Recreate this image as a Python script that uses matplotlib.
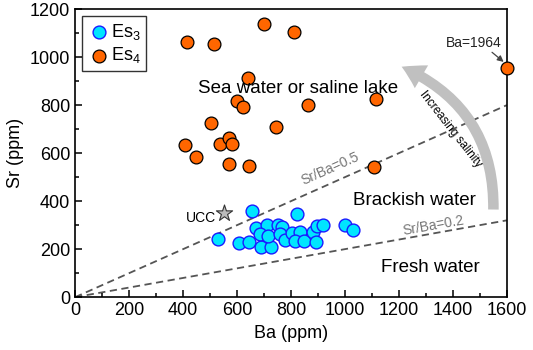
import numpy as np
import matplotlib

matplotlib.use('Agg')
import matplotlib.pyplot as plt
from matplotlib.patches import FancyArrowPatch
from matplotlib.ticker import MultipleLocator

plt.rcParams['font.family'] = ['Liberation Sans', 'DejaVu Sans']
plt.rcParams['mathtext.default'] = 'regular'

# Es3 samples (Ba, Sr in ppm)
es3_ba = [654, 821, 531, 607, 644, 689, 725, 670, 710, 685, 716, 753, 765, 759,
          778, 802, 833, 815, 848, 880, 895, 920, 893, 1000, 1031]
es3_sr = [360, 346, 242, 224, 228, 210, 210, 286, 300, 265, 254, 300, 293, 265,
          240, 269, 272, 233, 235, 272, 297, 300, 228, 300, 279]

# Es4 samples
es4_ba = [701, 812, 416, 515, 640, 599, 623, 863, 1114, 502, 744, 406, 537, 570,
          583, 448, 572, 646, 1107, 1600]
es4_sr = [1140, 1103, 1061, 1054, 915, 818, 793, 800, 824, 726, 708, 633, 637, 661,
          637, 585, 553, 546, 543, 955]

ucc_ba, ucc_sr = 550, 350
ratios = [0.5, 0.2]
ba_line = np.array([0, 1600])

fig = plt.figure(figsize=(5.33, 3.5), dpi=100)
ax = fig.add_axes([0.141, 0.151, 0.81, 0.823])

for r in ratios:
    ax.plot(ba_line, r * ba_line, ls=(0, (4, 2.5)), color='#555555', lw=1.3, zorder=1)

ax.scatter(es3_ba, es3_sr, s=85, facecolor='#00e5ff', edgecolor='#1a1aff', lw=1.0,
           zorder=3, label='Es$_3$')
ax.scatter(es4_ba, es4_sr, s=85, facecolor='#ff6600', edgecolor='black', lw=0.9,
           zorder=3, label='Es$_4$', clip_on=False)

ax.scatter([ucc_ba], [ucc_sr], marker='*', s=150, facecolor='#bbbbbb', edgecolor='#333333',
           lw=0.8, zorder=4)
ax.text(467, 329, 'UCC', fontsize=10, ha='center', va='center')

# ratio labels
ax.text(944, 535, 'Sr/Ba=0.5', fontsize=10, color='#777777', rotation=24,
        ha='center', va='center', rotation_mode='anchor')
ax.text(1326, 296, 'Sr/Ba=0.2', fontsize=10, color='#777777', rotation=10,
        ha='center', va='center', rotation_mode='anchor')

# field labels
ax.text(826, 871, 'Sea water or saline lake', fontsize=13.5, ha='center', va='center')
ax.text(1259, 401, 'Brackish water', fontsize=13.5, ha='center', va='center')
ax.text(1318, 124, 'Fresh water', fontsize=13.5, ha='center', va='center')

# salinity arrow
arr = FancyArrowPatch((1550, 365), (1210, 960), connectionstyle='arc3,rad=0.33',
                      arrowstyle='simple,head_length=0.8,head_width=0.95,tail_width=0.38',
                      mutation_scale=20, color='#c0c0c0', lw=0, shrinkA=0, shrinkB=0, zorder=2)
ax.add_patch(arr)
ax.text(1392, 700, 'Increasing salinity', fontsize=8.5, rotation=-52,
        ha='center', va='center', rotation_mode='anchor', zorder=5)

# Ba=1964 note
ax.text(1478, 1058, 'Ba=1964', fontsize=10, ha='center', va='center', color='#222222')
ax.annotate('', xy=(1588, 980), xytext=(1545, 1020),
            arrowprops=dict(arrowstyle='-|>', color='#444444', lw=0.9,
                            mutation_scale=9, shrinkA=0, shrinkB=0))

ax.set_xlim(0, 1600)
ax.set_ylim(0, 1200)
ax.xaxis.set_major_locator(MultipleLocator(200))
ax.xaxis.set_minor_locator(MultipleLocator(100))
ax.yaxis.set_major_locator(MultipleLocator(200))
ax.yaxis.set_minor_locator(MultipleLocator(100))
ax.tick_params(which='both', direction='in', top=False, right=False, labelsize=13, width=1.1)
ax.tick_params(which='major', length=5)
ax.tick_params(which='minor', length=3)
for sp in ax.spines.values():
    sp.set_linewidth(1.2)

ax.set_xlabel('Ba (ppm)', fontsize=13)
ax.set_ylabel('Sr (ppm)', fontsize=13)

leg = ax.legend(loc='upper left', fontsize=13, fancybox=False, edgecolor='black',
                handletextpad=0.1, borderpad=0.3, labelspacing=0.2, handlelength=1.2,
                borderaxespad=0.4)
leg.get_frame().set_linewidth(1.0)

plt.savefig('out.png', dpi=100)
